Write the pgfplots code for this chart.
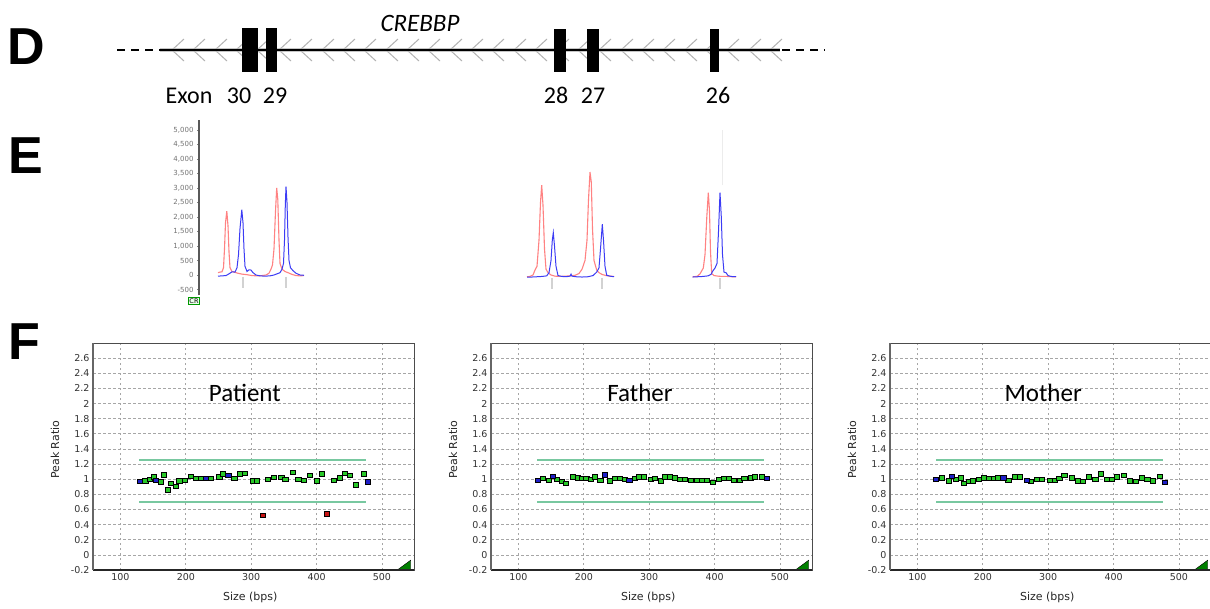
\documentclass[border=0pt]{standalone}
\usepackage{pgfplots}
\pgfplotsset{compat=1.18}
\usepackage{fontspec}
\setmainfont{Carlito}
\newfontfamily\arialf{Liberation Sans}
\newfontfamily\dejavu{DejaVu Sans}

\definecolor{okgreen}{RGB}{40,200,40}
\definecolor{refblue}{RGB}{30,30,200}
\definecolor{delred}{RGB}{200,20,20}
\definecolor{limgreen}{RGB}{120,200,160}
\definecolor{trred}{RGB}{255,130,130}
\definecolor{trblue}{RGB}{60,60,245}

\pgfplotsset{
  panelF/.style={
    scale only axis, width=321pt, height=227pt, anchor=south west,
    xmin=58, xmax=549, ymin=-0.2, ymax=2.8,
    xtick={100,200,300,400,500},
    ytick={-0.2,0,0.2,0.4,0.6,0.8,1,1.2,1.4,1.6,1.8,2,2.2,2.4,2.6},
    grid=major,
    major grid style={gray!70, line width=0.7pt, dash pattern=on 2.5pt off 2.5pt},
    major tick length=0pt,
    axis line style={gray!60!black, line width=0.8pt},
    tick label style={font=\dejavu\fontsize{9.5}{9.5}\selectfont, black!80},
    /pgf/number format/assume math mode=true,
    xlabel={Size (bps)}, ylabel={Peak Ratio},
    label style={font=\dejavu\fontsize{11}{11}\selectfont, black!85},
    xlabel style={at={(axis description cs:0.49,-0.119)}, anchor=center},
    ylabel style={at={(axis description cs:-0.118,0.53)}, anchor=center},
    clip mode=individual,
  },
  okpts/.style={only marks, mark=square*, mark size=2.6pt,
    mark options={fill=okgreen, draw=black, line width=0.5pt, yscale=0.85}},
  refpts/.style={only marks, mark=square*, mark size=2.6pt,
    mark options={fill=refblue, draw=black, line width=0.5pt, yscale=0.85}},
  delpts/.style={only marks, mark=square*, mark size=2.6pt,
    mark options={fill=delred, draw=black, line width=0.5pt, yscale=0.85}},
  limits/.style={limgreen, line width=1.6pt},
}

\newcommand{\panelextras}[2]{%
  \addplot[limits] coordinates {(129,1.25)(476,1.25)};
  \addplot[limits] coordinates {(129,0.7)(476,0.7)};
  \addplot[fill=green!50!black, draw=black, line width=0.4pt] coordinates {(525,-0.19)(544,-0.19)(544,-0.07)} -- cycle;
  \draw[black!85, line width=1.6pt] (rel axis cs:0,0) -- (rel axis cs:1,0);
  \draw[black!60, line width=1.4pt] (rel axis cs:0,0) -- (rel axis cs:0,1);
  \node[font=\fontsize{25}{25}\selectfont] at (rel axis cs:#1,0.78) {#2};
}

\begin{document}
\begin{tikzpicture}
\useasboundingbox (0,0) rectangle (1210pt,-608pt);
\fill[white] (0,0) rectangle (1210pt,-608pt);
\clip (0,0) rectangle (1210pt,-608pt);

% ---------- overlay in pixel coordinates: panel letters and gene map (D)
\begin{axis}[at={(0pt,0pt)}, anchor=north west, scale only axis,
  width=1210pt, height=608pt, xmin=0, xmax=1210, ymin=0, ymax=608,
  y dir=reverse, hide axis, clip=false, unbounded coords=jump]
  \node[font=\arialf\bfseries\fontsize{52}{52}\selectfont] at (axis cs:26,47) {D};
  \node[font=\arialf\bfseries\fontsize{52}{52}\selectfont] at (axis cs:26,156) {E};
  \node[font=\arialf\bfseries\fontsize{52}{52}\selectfont] at (axis cs:24,342) {F};

  % gene body
  \addplot[gray!45, line width=4pt] coordinates {(160,50)(780,50)};
  \addplot[gray!60, line width=1pt] coordinates
  {(184,39)(172,50)(184,61)(nan,nan)(205,39)(193,50)(205,61)(nan,nan)
   (227,39)(215,50)(227,61)(nan,nan)(248,39)(236,50)(248,61)(nan,nan)
   (269,39)(257,50)(269,61)(nan,nan)(291,39)(279,50)(291,61)(nan,nan)
   (312,39)(300,50)(312,61)(nan,nan)(334,39)(322,50)(334,61)(nan,nan)
   (355,39)(343,50)(355,61)(nan,nan)(376,39)(364,50)(376,61)(nan,nan)
   (398,39)(386,50)(398,61)(nan,nan)(419,39)(407,50)(419,61)(nan,nan)
   (440,39)(428,50)(440,61)(nan,nan)(462,39)(450,50)(462,61)(nan,nan)
   (483,39)(471,50)(483,61)(nan,nan)(504,39)(492,50)(504,61)(nan,nan)
   (526,39)(514,50)(526,61)(nan,nan)(547,39)(535,50)(547,61)(nan,nan)
   (569,39)(557,50)(569,61)(nan,nan)(590,39)(578,50)(590,61)(nan,nan)
   (611,39)(599,50)(611,61)(nan,nan)(633,39)(621,50)(633,61)(nan,nan)
   (654,39)(642,50)(654,61)(nan,nan)(675,39)(663,50)(675,61)(nan,nan)
   (697,39)(685,50)(697,61)(nan,nan)(718,39)(706,50)(718,61)(nan,nan)
   (739,39)(727,50)(739,61)(nan,nan)(761,39)(749,50)(761,61)(nan,nan)
   (782,39)(770,50)(782,61)};
  \addplot[black, line width=1.8pt] coordinates {(160,50)(780,50)};
  \addplot[black, line width=2pt, dash pattern=on 8pt off 6pt] coordinates {(117,50)(160,50)};
  \addplot[black, line width=2pt, dash pattern=on 8pt off 6pt] coordinates {(782,50)(825,50)};
  % exons
  \addplot[fill=black, draw=none] coordinates {(242,28)(258,28)(258,72)(242,72)} -- cycle;
  \addplot[fill=black, draw=none] coordinates {(266,28)(277,28)(277,72)(266,72)} -- cycle;
  \addplot[fill=black, draw=none] coordinates {(554,29)(566,29)(566,72)(554,72)} -- cycle;
  \addplot[fill=black, draw=none] coordinates {(587,29)(599,29)(599,72)(587,72)} -- cycle;
  \addplot[fill=black, draw=none] coordinates {(710,29)(719,29)(719,72)(710,72)} -- cycle;
  \node[font=\itshape\fontsize{25}{25}\selectfont, anchor=base] at (axis cs:420,31) {CREBBP};
  \node[font=\fontsize{24}{24}\selectfont, anchor=base] at (axis cs:189,103) {Exon};
  \node[font=\fontsize{24}{24}\selectfont, anchor=base] at (axis cs:239,103) {30};
  \node[font=\fontsize{24}{24}\selectfont, anchor=base] at (axis cs:275,103) {29};
  \node[font=\fontsize{24}{24}\selectfont, anchor=base] at (axis cs:556,103) {28};
  \node[font=\fontsize{24}{24}\selectfont, anchor=base] at (axis cs:593,103) {27};
  \node[font=\fontsize{24}{24}\selectfont, anchor=base] at (axis cs:718,103) {26};
  \node[draw=green!60!black, fill=green!8, line width=0.6pt, inner sep=0.8pt,
        font=\dejavu\fontsize{6.5}{6.5}\selectfont] at (axis cs:194,301) {CR};
\end{axis}

% ---------- E: electropherogram
\begin{axis}[at={(199pt,-295pt)}, anchor=south west, scale only axis,
  width=541pt, height=175pt, xmin=199, xmax=740, ymin=-690, ymax=5345,
  axis x line=none, axis y line*=left,
  y axis line style={line width=2.5pt, black!65},
  ytick={-500,0,500,1000,1500,2000,2500,3000,3500,4000,4500,5000},
  scaled y ticks=false,
  yticklabel style={font=\dejavu\fontsize{7}{7}\selectfont, gray!90!black},
  /pgf/number format/1000 sep={,},
  /pgf/number format/assume math mode=true,
  major tick length=2pt, tick style={black!50}, tick align=outside,
  clip=false, unbounded coords=jump]
  \addplot[gray!35, line width=2.5pt] coordinates
  {(243,-60)(243,-450)(nan,nan)(286,-60)(286,-450)(nan,nan)
   (552,-100)(552,-500)(nan,nan)(602,-100)(602,-500)(nan,nan)(720,-100)(720,-500)};
  \addplot[gray!15, line width=0.8pt] coordinates {(722,3100)(722,5000)};
  % red traces
  \addplot[trred, line width=1.1pt] coordinates
  {(218,80)(220,100)(222,110)(223.5,250)(224.5,900)(225.5,1800)(226.8,2200)(228,1700)
   (229,800)(230,250)(232,120)(235,90)(238,60)(242,30)(247,10)(252,-20)(257,-30)
   (262,-20)(266,0)(269,60)(271,200)(272.5,350)(274,900)(275.5,2200)(276.7,3000)
   (277.8,2600)(279,1200)(280,400)(282,200)(285,120)(288,80)(292,20)(296,-20)(300,-30)(304,-20)
   (nan,nan)
   (527,-60)(530,-50)(533,0)(535,170)(537,300)(539,1200)(540.5,2500)(541.7,3100)(543,2400)
   (544.5,900)(546,200)(548,80)(551,0)(555,-40)(560,-50)(565,-40)(570,-30)(575,-10)(579,50)
   (582,200)(585,500)(587,1200)(588.5,2600)(590,3550)(591.3,3200)(592.5,1600)(594,500)
   (596.7,170)(599,80)(602,20)(606,-20)(610,-40)(614,-50)
   (nan,nan)
   (692.7,-60)(697,-50)(700,40)(703.3,240)(705,700)(706.8,2000)(708.3,2840)(709.5,2200)
   (710.5,800)(711.7,50)(714,-20)(718,-40)(722,-50)(727,-50)(732,-60)(736,-60)};
  % blue traces
  \addplot[trblue, line width=1pt] coordinates
  {(218,-40)(222,-30)(226,-20)(229,40)(232,110)(235,100)(237,250)(238.5,700)(240,1600)
   (241.8,2250)(243,1800)(244,900)(245,300)(247,120)(249,180)(251,170)(253,80)(256,0)
   (260,-30)(265,-40)(270,-30)(274,0)(277,40)(280,80)(282,200)(283.5,400)(284.5,1200)
   (285.3,2400)(286,3050)(287,2500)(288,1300)(289,500)(290.5,250)(293,150)(296,60)(300,0)(304,-10)
   (nan,nan)
   (527,-70)(532,-70)(537,-60)(542,-50)(546.7,-30)(549,80)(551,500)(552.3,1200)(553.3,1460)
   (554.5,1000)(556,300)(558,-20)(562,-50)(566,-60)(570,-40)(571,30)(572,-40)(576,-60)
   (582,-70)(588,-60)(593,-20)(596.7,100)(599,250)(600.5,900)(602.3,1750)(603.5,1200)
   (605,300)(606.7,-10)(610,-40)(614,-60)
   (nan,nan)
   (692.7,-70)(698,-60)(703,-50)(708,-30)(711,20)(713,150)(715,240)(717,400)(718.5,1500)
   (720,2840)(721.3,2000)(722.5,700)(724,100)(726,80)(728,-20)(731,-50)(736,-60)};
\end{axis}

% ---------- F: Patient
\begin{axis}[panelF, at={(93pt,-570pt)}]
  \addplot[okpts] coordinates {
   (138,0.98)(145,1.0)(151,1.035)(162,0.965)(166,1.06)(172,0.86)(177,0.95)(185,0.91)
   (190,0.98)(198,0.99)(207,1.04)(216,1.01)(223,1.01)(238,1.01)(251,1.035)(257,1.07)
   (274,1.01)(282,1.07)(290,1.08)(302,0.98)(308,0.98)(325,1.0)(334,1.025)(346,1.025)
   (352,1.0)(363,1.09)(372,1.0)(380,0.99)(390,1.05)(400,0.98)(408,1.07)(426,0.99)
   (435,1.02)(443,1.075)(451,1.05)(460,0.925)(472,1.07)};
  \addplot[refpts] coordinates {(130,0.97)(154,0.99)(231,1.01)(265,1.055)(478,0.965)};
  \addplot[delpts] coordinates {(318,0.52)(416,0.545)};
  \panelextras{0.473}{Patient}
\end{axis}

% ---------- F: Father
\begin{axis}[panelF, at={(491pt,-570pt)}]
  \addplot[okpts] coordinates {
   (137.7,1.01)(146.8,0.99)(159,1.00)(166.7,0.97)(172.8,0.95)(183.5,1.03)(190.6,1.02)
   (197.2,1.01)(203.8,1.01)(210.4,1.00)(217,1.03)(225.2,0.99)(239.4,0.98)(247,1.01)
   (254.7,1.01)(262.3,1.00)(277.6,1.01)(284.7,1.03)(291.3,1.03)(302.5,1.00)(308.7,1.01)
   (317.8,0.98)(324.4,1.03)(332,1.03)(339.2,1.02)(346.8,1.00)(353.9,1.00)(364.1,0.99)
   (372.8,0.99)(380.4,0.99)(388,0.99)(397.2,0.96)(405.8,1.00)(413.5,1.01)(421.1,1.01)
   (429.8,0.99)(437.9,0.99)(445.5,1.01)(455.7,1.02)(461.8,1.03)(472,1.03)};
  \addplot[refpts] coordinates {(129.5,0.99)(152.9,1.04)(231.8,1.06)(269.5,0.99)(479.6,1.01)};
  \panelextras{0.464}{Father}
\end{axis}

% ---------- F: Mother
\begin{axis}[panelF, at={(890pt,-570pt)}]
  \addplot[okpts] coordinates {
   (137.7,1.02)(147.3,0.98)(159,1.0)(166.7,1.02)(171.2,0.95)(177.9,0.97)(184.5,0.98)
   (193.6,1.0)(201.8,1.02)(208.9,1.01)(216.5,1.01)(223.7,1.02)(238.9,0.99)(249.6,1.03)
   (256.7,1.03)(273.5,0.97)(282.2,1.0)(290.3,1.0)(302.5,0.99)(310.2,0.99)(316.8,1.01)
   (324.4,1.05)(336.1,1.02)(344.8,0.98)(352.4,0.97)(361.6,1.03)(371.8,1.0)(380.4,1.07)
   (389.6,1.0)(397.2,1.0)(404.8,1.03)(415.5,1.05)(424.7,0.98)(433.8,0.97)(443,1.02)
   (451.6,1.0)(459.3,0.98)(470.5,1.04)};
  \addplot[refpts] coordinates {(127.5,1.0)(152.9,1.04)(231.3,1.02)(266.9,0.99)(478.6,0.96)};
  \panelextras{0.477}{Mother}
\end{axis}
\end{tikzpicture}
\end{document}
